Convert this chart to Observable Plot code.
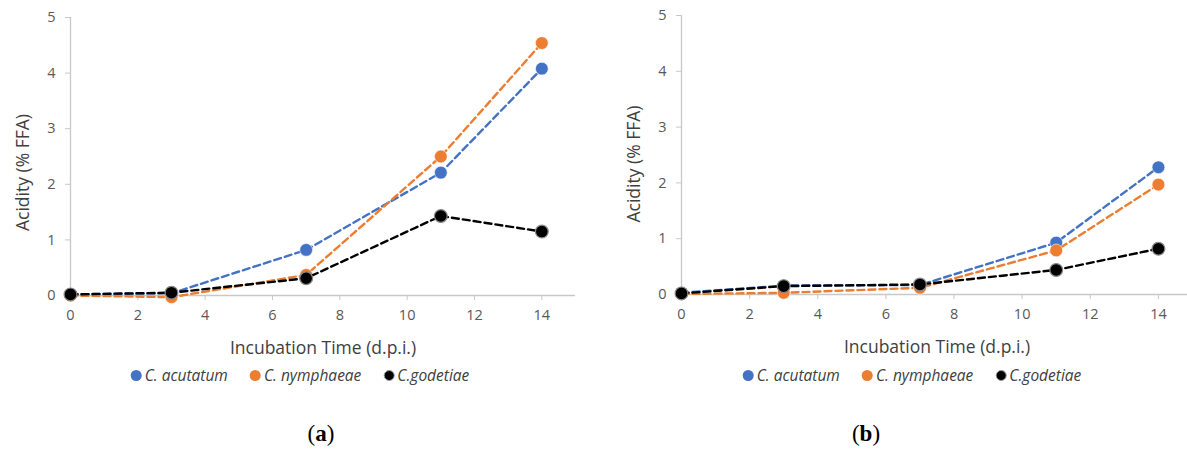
<!DOCTYPE html>
<html>
<head>
<meta charset="utf-8">
<script src="https://cdn.jsdelivr.net/npm/d3@7"></script>
<script src="https://cdn.jsdelivr.net/npm/@observablehq/plot@0.6"></script>
<style>
  html, body { margin: 0; padding: 0; background: #fff; overflow: hidden; width: 1187px; height: 454px; }
  .panel { position: absolute; top: 0; }
  .panel svg { max-width: none !important; }
  g[aria-label="x-axis label"] text, g[aria-label="y-axis label"] text { font-size: 17.5px; fill: #404040; }
  #a g[aria-label="y-axis label"] { translate: 0px 16px; }
  #b g[aria-label="y-axis label"] { translate: 0px 9px; }
  .legend { position: absolute; display: flex; align-items: center; font-family: "Open Sans", sans-serif; font-style: italic; font-size: 15.5px; color: #404040; white-space: nowrap; }
  .legend .item { display: flex; align-items: center; margin-right: 22px; }
  .legend .item:last-child { margin-right: 0; }
  .legend .sw { width: 11px; height: 11px; border-radius: 50%; margin-right: 3px; box-sizing: border-box; }
  .cap { position: absolute; font-family: "Liberation Serif", "DejaVu Serif", serif; font-size: 23px; color: #000; transform: translateX(-50%); }
</style>
</head>
<body>
<div id="a" class="panel" style="left:0px; width:594px"></div>
<div id="b" class="panel" style="left:611px; width:581px"></div>
<div id="legA" class="legend" style="left:300px; top:364px; transform:translateX(-50%)"></div>
<div id="legB" class="legend" style="left:912px; top:364px; transform:translateX(-50%)"></div>
<div class="cap" style="left:321px; top:421px">(<b>a</b>)</div>
<div class="cap" style="left:866px; top:421px">(<b>b</b>)</div>
<script>
const days = [0, 3, 7, 11, 14];
const seriesNames = ["C. acutatum", "C. nymphaeae", "C.godetiae"];
const seriesColors = ["#4472C4", "#ED7D31", "#000000"];
const xTicks = [0, 2, 4, 6, 8, 10, 12, 14];
const yTicks = [0, 1, 2, 3, 4, 5];

// Panel (a)
const acutatumA  = [0.02, 0.04, 0.82, 2.21, 4.08];
const nymphaeaeA = [0.00, -0.03, 0.37, 2.50, 4.54];
const godetiaeA  = [0.02, 0.05, 0.31, 1.43, 1.15];
// Panel (b)
const acutatumB  = [0.03, 0.16, 0.17, 0.93, 2.28];
const nymphaeaeB = [0.01, 0.03, 0.12, 0.79, 1.97];
const godetiaeB  = [0.02, 0.15, 0.18, 0.44, 0.82];

function rows(valsList) {
  const out = [];
  valsList.forEach((vals, s) => vals.forEach((v, i) => out.push({series: seriesNames[s], day: days[i], value: v})));
  return out;
}

function panel(valsList, opts) {
  const data = rows(valsList);
  const marks = [
    Plot.ruleY([0], {stroke: "#c8c8c8", strokeWidth: 1.3}),
    Plot.ruleX([0], {stroke: "#c8c8c8", strokeWidth: 1.3}),
    Plot.axisX({ticks: xTicks, tickFormat: d => String(d), tickSize: 5, tickPadding: 9, stroke: "#c8c8c8", fill: "#595959",
      label: "Incubation Time (d.p.i.)", labelAnchor: "center", labelArrow: "none", labelOffset: opts.xLabelOffset}),
    Plot.axisY({ticks: yTicks, tickFormat: d => String(d), tickSize: 5, tickPadding: 10, stroke: "#c8c8c8", fill: "#595959",
      label: "Acidity (% FFA)", labelAnchor: "center", labelArrow: "none", labelOffset: opts.yLabelOffset})
  ];
  seriesNames.forEach((name, s) => {
    const d = data.filter(r => r.series === name);
    marks.push(Plot.line(d, {x: "day", y: "value", stroke: seriesColors[s], strokeWidth: 2.4, strokeDasharray: "7,4"}));
    marks.push(Plot.dot(d, {x: "day", y: "value", r: 6.4, fill: seriesColors[s],
      stroke: s === 2 ? "#8a8a8a" : "#ffffff", strokeWidth: s === 2 ? 1.2 : 0.6}));
  });
  return Plot.plot({
    width: opts.width, height: opts.height,
    marginLeft: 70, marginRight: opts.marginRight, marginTop: opts.marginTop, marginBottom: opts.marginBottom,
    style: {fontFamily: "'Open Sans', sans-serif", fontSize: "14.5px", background: "transparent", overflow: "visible"},
    x: {domain: [0, 15]},
    y: {domain: [0, 5]},
    marks
  });
}

document.getElementById("a").appendChild(panel([acutatumA, nymphaeaeA, godetiaeA],
  {width: 594, height: 365, marginRight: 19, marginTop: 17, marginBottom: 70, xLabelOffset: 58, yLabelOffset: 54}));
document.getElementById("b").appendChild(panel([acutatumB, nymphaeaeB, godetiaeB],
  {width: 581, height: 365, marginRight: 0, marginTop: 15, marginBottom: 71, xLabelOffset: 58, yLabelOffset: 54}));

function legend(id) {
  const el = document.getElementById(id);
  seriesNames.forEach((name, s) => {
    const item = document.createElement("div");
    item.className = "item";
    const sw = document.createElement("div");
    sw.className = "sw";
    sw.style.background = seriesColors[s];
    if (s === 2) sw.style.border = "1.5px solid #9a9a9a";
    const t = document.createElement("span");
    t.textContent = name;
    item.appendChild(sw); item.appendChild(t);
    el.appendChild(item);
  });
}
legend("legA");
legend("legB");
</script>
</body>
</html>
